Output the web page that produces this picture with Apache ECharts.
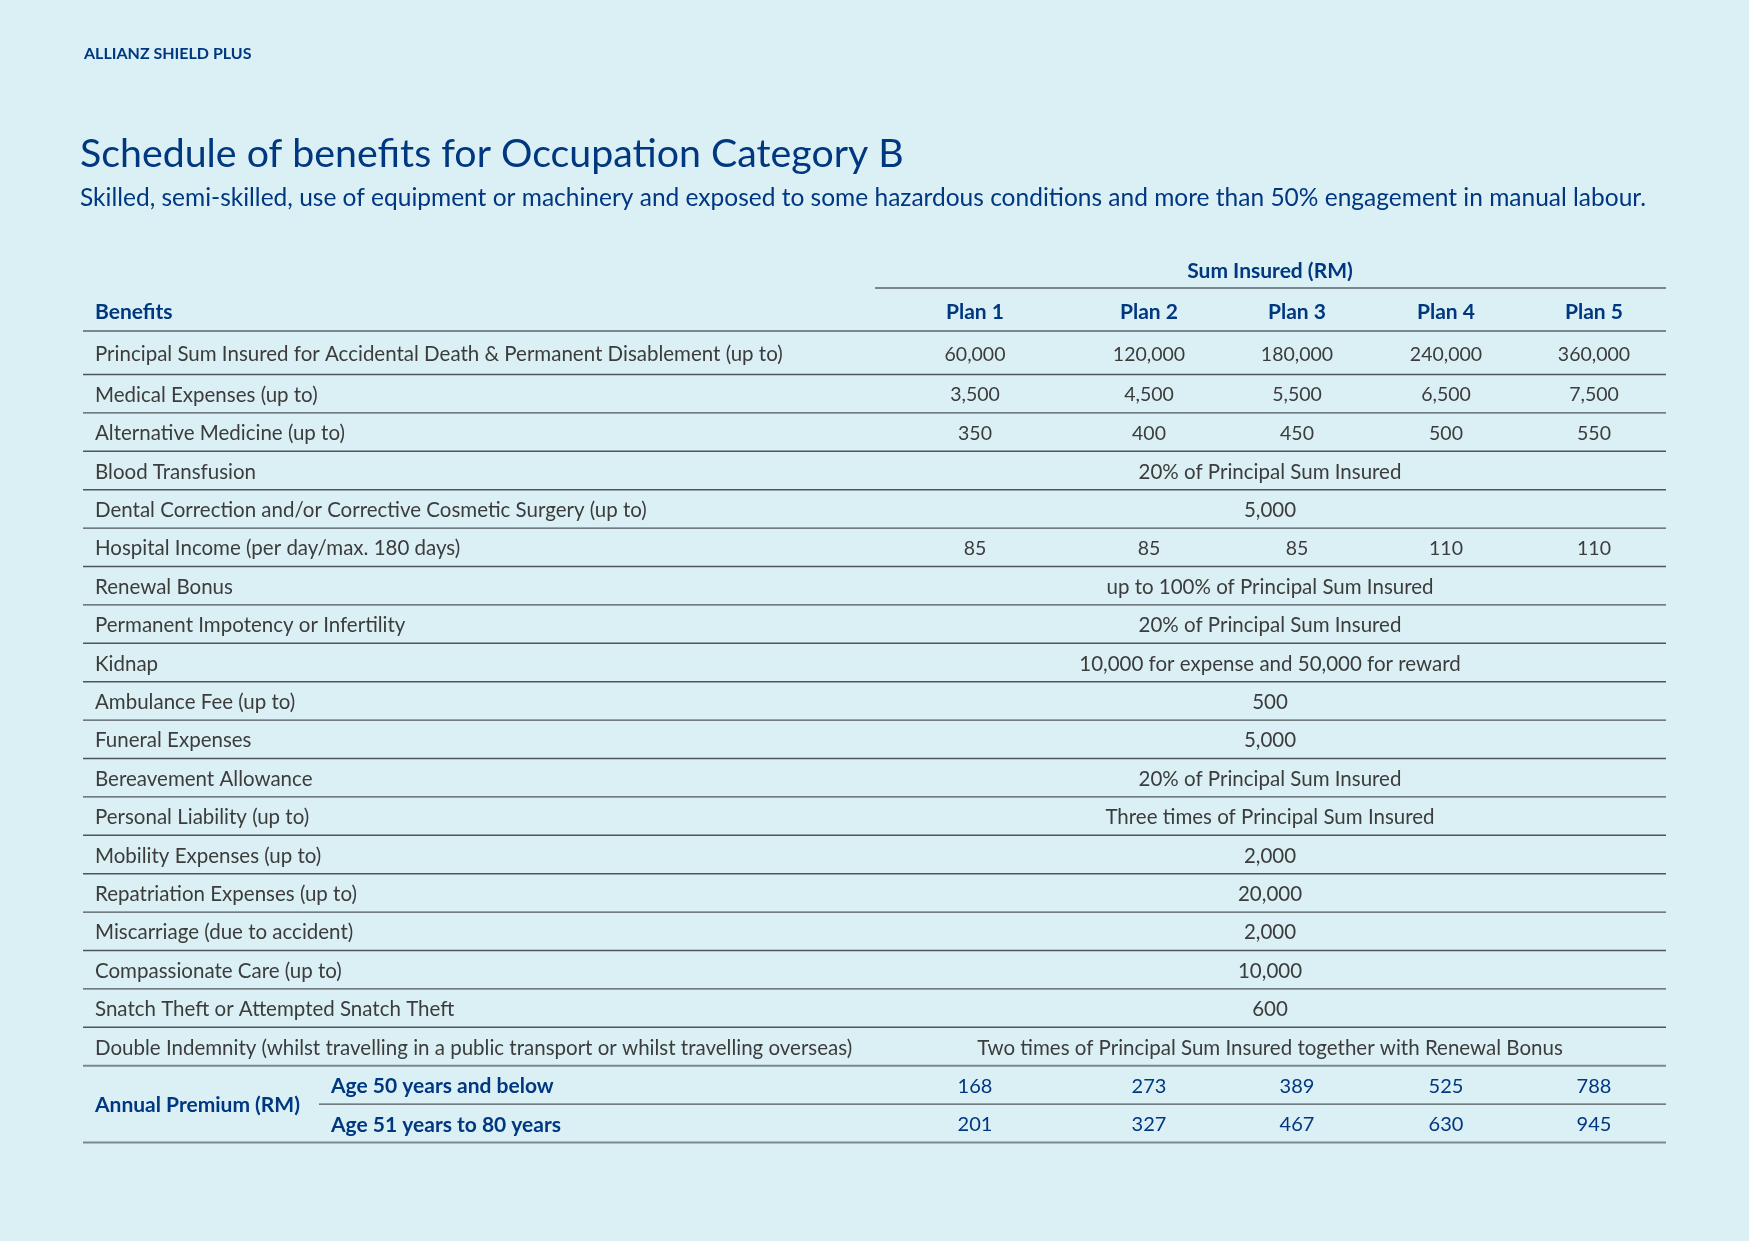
<!DOCTYPE html>
<html><head><meta charset="utf-8">
<script src="https://cdn.jsdelivr.net/npm/echarts@6/dist/echarts.min.js"></script>
<style>html,body{margin:0;padding:0;background:#dbf0f4}#c{width:1749px;height:1241px}</style>
</head><body><div id="c"></div>
<script>
// ---------- data ----------
const brand = "ALLIANZ SHIELD PLUS";
const title = "Schedule of benefits for Occupation Category B";
const subtitle = "Skilled, semi-skilled, use of equipment or machinery and exposed to some hazardous conditions and more than 50% engagement in manual labour.";
const groupHeader = "Sum Insured (RM)";
const benefitsHeader = "Benefits";
const plans = ["Plan 1", "Plan 2", "Plan 3", "Plan 4", "Plan 5"];
const benefits = [
  "Principal Sum Insured for Accidental Death & Permanent Disablement (up to)",
  "Medical Expenses (up to)",
  "Alternative Medicine (up to)",
  "Blood Transfusion",
  "Dental Correction and/or Corrective Cosmetic Surgery (up to)",
  "Hospital Income (per day/max. 180 days)",
  "Renewal Bonus",
  "Permanent Impotency or Infertility",
  "Kidnap",
  "Ambulance Fee (up to)",
  "Funeral Expenses",
  "Bereavement Allowance",
  "Personal Liability (up to)",
  "Mobility Expenses (up to)",
  "Repatriation Expenses (up to)",
  "Miscarriage (due to accident)",
  "Compassionate Care (up to)",
  "Snatch Theft or Attempted Snatch Theft",
  "Double Indemnity (whilst travelling in a public transport or whilst travelling overseas)"
];
const principalSum = ["60,000", "120,000", "180,000", "240,000", "360,000"];
const medicalExpenses = ["3,500", "4,500", "5,500", "6,500", "7,500"];
const alternativeMedicine = ["350", "400", "450", "500", "550"];
const hospitalIncome = ["85", "85", "85", "110", "110"];
const benefitValues = [
  principalSum,
  medicalExpenses,
  alternativeMedicine,
  "20% of Principal Sum Insured",
  "5,000",
  hospitalIncome,
  "up to 100% of Principal Sum Insured",
  "20% of Principal Sum Insured",
  "10,000 for expense and 50,000 for reward",
  "500",
  "5,000",
  "20% of Principal Sum Insured",
  "Three times of Principal Sum Insured",
  "2,000",
  "20,000",
  "2,000",
  "10,000",
  "600",
  "Two times of Principal Sum Insured together with Renewal Bonus"
];
const premiumLabel = "Annual Premium (RM)";
const ageGroups = ["Age 50 years and below", "Age 51 years to 80 years"];
const premiumAge50 = [168, 273, 389, 525, 788];
const premiumAge51 = [201, 327, 467, 630, 945];

// ---------- layout ----------
const W = 1749, H = 1241;
const BLUE = "#003781", GREY = "#3c3c3c";
const FONT = "Lato, 'Open Sans', sans-serif";
const LY = {
  left: 83, right: 1666, textLeft: 95, planLeft: 875, ageLeft: 319, ageTextLeft: 331,
  planCenters: [975, 1149, 1297, 1446, 1594], mergedCenter: 1270,
  brandY: 53.5, titleY: 154, subY: 198, sumY: 271, subLineY: 288, headY: 312, headLineY: 331,
  firstRowBottom: 374.5, rowH: 38.4, textShift: 1.5
};
function rowTop(i) { return i === 0 ? LY.headLineY : LY.firstRowBottom + (i - 1) * LY.rowH; }
function rowBottom(i) { return LY.firstRowBottom + i * LY.rowH; }
function rowCenter(i) { return (rowTop(i) + rowBottom(i)) / 2 + LY.textShift; }

const texts = [];
function addText(x, y, text, size, weight, color, align) {
  texts.push({ value: [x, y], text: String(text), size, weight, color, align: align || "left" });
}
const BODY = 20.5, NUM = 19.5, HEAD = 21;
addText(84, LY.brandY, brand, 16, "bold", BLUE);
addText(80, LY.titleY, title, 39.3, "normal", BLUE);
addText(80, LY.subY, subtitle, 24.5, "normal", BLUE);
addText(LY.mergedCenter, LY.sumY, groupHeader, HEAD, "bold", BLUE, "center");
addText(LY.textLeft, LY.headY, benefitsHeader, HEAD, "bold", BLUE);
plans.forEach((p, j) => addText(LY.planCenters[j], LY.headY, p, HEAD, "bold", BLUE, "center"));
benefits.forEach((b, i) => {
  const y = rowCenter(i);
  addText(LY.textLeft, y, b, BODY, "normal", GREY);
  const v = benefitValues[i];
  if (Array.isArray(v)) v.forEach((s, j) => addText(LY.planCenters[j], y, s, NUM, "normal", GREY, "center"));
  else addText(LY.mergedCenter, y, v, BODY, "normal", GREY, "center");
});
const r50 = benefits.length, r51 = benefits.length + 1;
addText(LY.textLeft, (rowTop(r50) + rowBottom(r51)) / 2 + LY.textShift, premiumLabel, HEAD, "bold", BLUE);
[premiumAge50, premiumAge51].forEach((arr, k) => {
  const y = rowCenter(r50 + k);
  addText(LY.ageTextLeft, y, ageGroups[k], HEAD, "bold", BLUE);
  arr.forEach((v, j) => addText(LY.planCenters[j], y, v, 20, "normal", BLUE, "center"));
});

const lines = [];
const LIGHT = "#7b8889", DARK = "#4c5658";
lines.push({ value: [LY.planLeft, LY.subLineY, LY.right, LY.subLineY], color: LIGHT, w: 2 });
lines.push({ value: [LY.left, LY.headLineY, LY.right, LY.headLineY], color: LIGHT, w: 2 });
for (let i = 0; i <= r51; i++) {
  const y = rowBottom(i);
  const light = (i === r50 - 1 || i === r51);
  const x1 = (i === r50) ? LY.ageLeft : LY.left;
  lines.push({ value: [x1, y, LY.right, y], color: light ? LIGHT : DARK, w: light ? 2 : 1.4 });
}

const chart = echarts.init(document.getElementById("c"));
chart.setOption({
  backgroundColor: "#dbf0f4",
  animation: false,
  grid: { left: 0, top: 0, right: 0, bottom: 0 },
  xAxis: { type: "value", min: 0, max: W, show: false },
  yAxis: { type: "value", min: 0, max: H, inverse: true, show: false },
  series: [
    {
      type: "custom", data: lines, silent: true,
      renderItem: (params, api) => {
        const d = lines[params.dataIndex];
        const p1 = api.coord([api.value(0), api.value(1)]);
        const p2 = api.coord([api.value(2), api.value(3)]);
        return { type: "line", shape: { x1: p1[0], y1: p1[1], x2: p2[0], y2: p2[1] },
                 style: { stroke: d.color, lineWidth: d.w } };
      }
    },
    {
      type: "custom", data: texts, silent: true,
      renderItem: (params, api) => {
        const d = texts[params.dataIndex];
        const p = api.coord([api.value(0), api.value(1)]);
        return { type: "text", x: p[0], y: p[1],
                 style: { text: d.text, fill: d.color, font: d.weight + " " + d.size + "px " + FONT,
                          align: d.align, textAlign: d.align, verticalAlign: "middle", textVerticalAlign: "middle" } };
      }
    }
  ]
});
</script>
</body></html>
